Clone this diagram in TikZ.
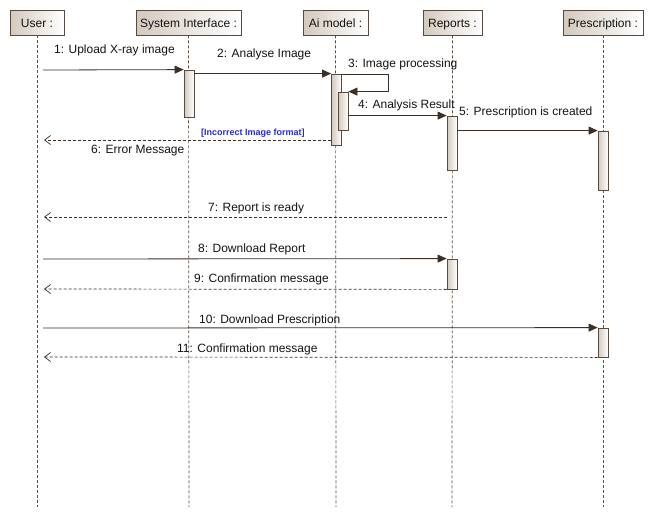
\documentclass[tikz,border=0pt]{standalone}
\usepackage{fontspec}
\setmainfont{Liberation Sans}
\usetikzlibrary{arrows.meta}
\definecolor{ln}{HTML}{3B3027}
\definecolor{ll}{HTML}{5E4E42}
\definecolor{bx}{HTML}{D3C9BD}
\definecolor{bd}{HTML}{5A4A3E}
\definecolor{gd}{HTML}{2A2AD8}
\definecolor{tx}{HTML}{141414}
\begin{document}
\begin{tikzpicture}[x=1pt,y=-1pt,
  hdr/.style={draw=bd, line width=0.8pt, left color=bx, right color=white, minimum height=25pt, inner sep=0pt, text height=10pt, text depth=0pt, text=tx, font=\fontsize{12}{14}\selectfont},
  act/.style={draw=bd, line width=0.8pt, left color=bx, right color=white, minimum width=10pt, inner sep=0pt},
  life/.style={draw=ll, dash pattern=on 3pt off 2pt, line width=0.7pt},
  msg/.style={draw=ln, line width=0.8pt, -{Triangle[length=9pt,width=8pt]}},
  ret/.style={draw=ln, line width=0.7pt, dash pattern=on 3pt off 2pt, -{Straight Barb[length=6pt,width=9pt]}},
  lbl/.style={font=\fontsize{12}{14}\selectfont, inner sep=0pt, anchor=base west, text=tx},
  grd/.style={font=\fontsize{9}{11}\selectfont\bfseries, inner sep=0pt, anchor=base west, text=gd}
]
\useasboundingbox (0,0) rectangle (654,517);
\fill[white] (0,0) rectangle (654,517);

% headers
\node[hdr, minimum width=54pt] (user) at (37,22.5) {User :};
\node[hdr, minimum width=105pt] (si) at (188.5,22.5) {System Interface :};
\node[hdr, minimum width=65pt] (ai) at (335.5,22.5) {Ai model :};
\node[hdr, minimum width=59pt] (rep) at (452.5,22.5) {Reports :};
\node[hdr, minimum width=80pt] (pre) at (603,22.5) {Prescription :};

% lifeline ends
\coordinate (userEnd) at (37,507);
\coordinate (siEnd) at (189,507);
\coordinate (aiEnd) at (336,507);
\coordinate (repEnd) at (452,507);
\coordinate (preEnd) at (603,507);

\draw[life] (user.south) -- (userEnd);
\draw[life] (si.south) -- (siEnd);
\draw[life] (ai.south) -- (aiEnd);
\draw[life] (rep.south) -- (repEnd);
\draw[life] (pre.south) -- (preEnd);

% activations
\node[act, minimum height=47pt] (a1) at (189,93.5) {};
\node[act, minimum height=71pt] (b1) at (336.5,109.5) {};
\node[act, minimum height=38pt] (b2) at (343,111) {};
\node[act, minimum height=54pt] (r1) at (452,143) {};
\node[act, minimum height=59pt] (p1) at (603,160.5) {};
\node[act, minimum height=30pt] (r2) at (452,274) {};
\node[act, minimum height=29pt] (p2) at (603,342.5) {};

% message endpoints
\coordinate (m1s) at (43,70);
\coordinate (m6e) at (44,140);
\coordinate (m7s) at (447,217);
\coordinate (m7e) at (44,217);
\coordinate (m8s) at (43,259);
\coordinate (m9e) at (44,289);
\coordinate (m10s) at (43,328);
\coordinate (m11e) at (44,357);

% messages
\draw[msg] (m1s) -- (a1.north west);
\draw[msg] (b1.north west -| a1.east) -- (b1.north west);
\draw[msg] ([yshift=-1pt]b1.north east) -- ++(46,0) |- (b2.north east);
\draw[msg] (r1.north west -| b2.east) -- (r1.north west);
\draw[msg] (p1.north west -| r1.east) -- (p1.north west);
\draw[ret] (m6e -| b1.west) -- (m6e);
\draw[ret] (m7s) -- (m7e);
\draw[msg] (m8s) -- (r2.north west);
\draw[ret] (r2.south west) -- (m9e);
\draw[msg] (m10s) -- (p2.north west);
\draw[ret] (p2.south west) -- (m11e);

% labels
\node[lbl] (l1) at (54,53.5) {1: Upload X-ray image};
\node[lbl] (l2) at (217,57.5) {2: Analyse Image};
\node[lbl] (l3) at (348,67.5) {3: Image processing};
\node[lbl] (l4) at (358,108.5) {4: Analysis Result};
\node[lbl] (l5) at (459,115) {5: Prescription is created};
\node[grd] (g6) at (201,135.5) {[Incorrect Image format]};
\node[lbl] (l6) at (91,153.5) {6: Error Message};
\node[lbl] (l7) at (208,211.5) {7: Report is ready};
\node[lbl] (l8) at (198,252.5) {8: Download Report};
\node[lbl] (l9) at (194,282.5) {9: Confirmation message};
\node[lbl] (l10) at (199,323.5) {10: Download Prescription};
\node[lbl] (l11) at (177,352.5) {11: Confirmation message};
\end{tikzpicture}
\end{document}
